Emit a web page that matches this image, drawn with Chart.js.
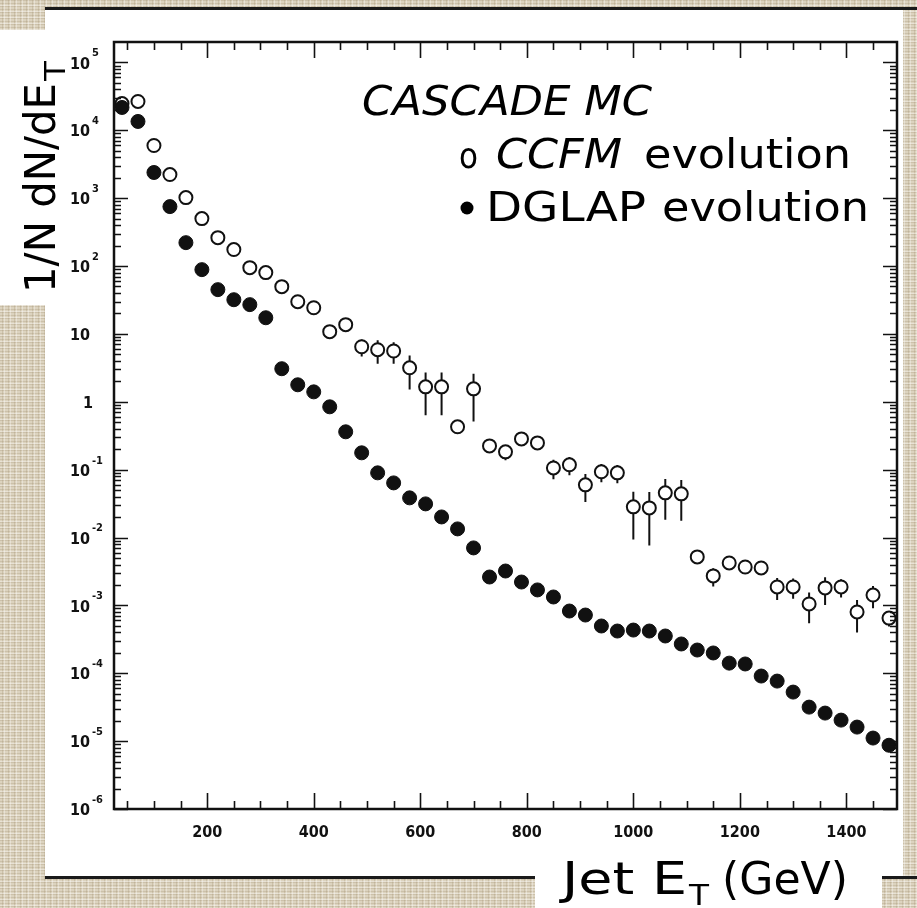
<!DOCTYPE html>
<html>
<head>
<meta charset="utf-8">
<script src="https://cdn.jsdelivr.net/npm/chart.js@4/dist/chart.umd.min.js"></script>
<style>
  html, body { margin: 0; padding: 0; background: #fff; }
  #wrap { width: 917px; height: 908px; position: relative; }
</style>
</head>
<body>
<div id="wrap"><canvas id="c" width="917" height="908"></canvas></div>
<script>
// Jet transverse energy bin centres (GeV), 30 GeV wide bins
const jetEt = [40, 70, 100, 130, 160, 190, 220, 250, 280, 310, 340, 370, 400, 430, 460, 490,
  520, 550, 580, 610, 640, 670, 700, 730, 760, 790, 820, 850, 880, 910, 940, 970, 1000,
  1030, 1060, 1090, 1120, 1150, 1180, 1210, 1240, 1270, 1300, 1330, 1360, 1390, 1420, 1450, 1480];

// 1/N dN/dE_T, CASCADE with DGLAP evolution (filled markers)
const dglap = [2.17e4, 1.35e4, 2.39e3, 751, 221, 88.5, 44.9, 31.9, 27.0, 17.3,
  3.07, 1.78, 1.40, 0.843, 0.361, 0.177, 0.0897, 0.0638, 0.0384, 0.0313, 0.0201, 0.0134,
  7.03e-3, 2.62e-3, 3.21e-3, 2.21e-3, 1.69e-3, 1.33e-3,
  8.26e-4, 7.21e-4, 4.97e-4, 4.19e-4, 4.33e-4, 4.19e-4, 3.54e-4, 2.70e-4, 2.20e-4, 1.99e-4,
  1.41e-4, 1.37e-4, 9.1e-5, 7.67e-5, 5.28e-5, 3.17e-5, 2.59e-5, 2.04e-5, 1.61e-5, 1.11e-5, 8.7e-6];

// 1/N dN/dE_T, CASCADE with CCFM evolution (open markers)
const ccfm = [2.48e4, 2.66e4, 5.97e3, 2.23e3, 1.02e3, 500, 262, 175, 94.7, 80,
  49.7, 29.8, 24.3, 10.8, 13.7, 6.47, 5.85, 5.6,
  3.17, 1.66, 1.66, 0.428, 1.55, 0.224, 0.183, 0.284, 0.248, 0.106, 0.118, 0.0597, 0.093, 0.0897,
  0.0283, 0.0273, 0.0455, 0.044, 5.18e-3,
  2.72e-3, 4.22e-3, 3.68e-3, 3.56e-3, 1.87e-3, 1.87e-3, 1.05e-3, 1.81e-3, 1.87e-3, 8.0e-4, 1.42e-3, 6.5e-4];

// Relative statistical uncertainty of the CCFM sample
const ccfmRelErr = [0.05, 0.05, 0.05, 0.05, 0.08, 0.08, 0.1, 0.1, 0.12, 0.12,
  0.15, 0.18, 0.2, 0.2, 0.2, 0.28, 0.38, 0.35,
  0.52, 0.62, 0.62, 0.1, 0.67, 0.2, 0.25, 0.2, 0.15, 0.32, 0.3, 0.44, 0.3, 0.3,
  0.67, 0.72, 0.6, 0.6, 0.12,
  0.3, 0.2, 0.15, 0.15, 0.36, 0.33, 0.48, 0.44, 0.3, 0.5, 0.36, 0.25];

const xTickValues = [200, 400, 600, 800, 1000, 1200, 1400];
const yTickValues = [1e-6, 1e-5, 1e-4, 1e-3, 1e-2, 1e-1, 1, 10, 1e2, 1e3, 1e4, 1e5];
const yTickLabels = ['10^-6', '10^-5', '10^-4', '10^-3', '10^-2', '10^-1', '1', '10', '10^2', '10^3', '10^4', '10^5'];

const INK = '#111';
const TICK_FONT = '"Liberation Sans Narrow", "DejaVu Sans Condensed", sans-serif';

// woven paper texture for the slide border
function paperPattern(ctx) {
  const t = document.createElement('canvas');
  t.width = 6; t.height = 6;
  const g = t.getContext('2d');
  g.fillStyle = '#dcd3bf';
  g.fillRect(0, 0, 6, 6);
  g.fillStyle = 'rgba(150,130,95,0.22)';
  g.fillRect(0, 0, 6, 1);
  g.fillRect(0, 3, 6, 1);
  g.fillRect(2, 0, 1, 6);
  g.fillStyle = 'rgba(255,255,255,0.35)';
  g.fillRect(4, 0, 1, 6);
  g.fillRect(0, 5, 6, 1);
  return ctx.createPattern(t, 'repeat');
}

// draw a text run, stretched horizontally to a given width
function run(ctx, text, font, x, base, width) {
  ctx.font = font;
  const w = ctx.measureText(text).width;
  ctx.save();
  ctx.translate(x, base);
  if (width) ctx.scale(width / w, 1);
  ctx.fillText(text, 0, 0);
  ctx.restore();
}

const backdrop = {
  id: 'backdrop',
  beforeDraw(chart) {
    const ctx = chart.ctx;
    ctx.save();
    ctx.fillStyle = '#fff';
    ctx.fillRect(0, 0, 917, 908);
    ctx.fillStyle = paperPattern(ctx);
    ctx.fillRect(0, 0, 917, 8);
    ctx.fillRect(0, 0, 45, 30);
    ctx.fillRect(0, 305, 45, 603);
    ctx.fillRect(903, 10, 14, 898);
    ctx.fillRect(0, 878, 535, 30);
    ctx.fillRect(882, 878, 35, 30);
    ctx.fillStyle = '#1a1a1a';
    ctx.fillRect(45, 7, 872, 3);
    ctx.fillRect(45, 876, 490, 3);
    ctx.fillRect(882, 876, 35, 3);
    ctx.restore();
  }
};

const errorBars = {
  id: 'errorBars',
  beforeDatasetsDraw(chart) {
    const { ctx, scales: { x, y } } = chart;
    ctx.save();
    ctx.strokeStyle = INK;
    ctx.lineWidth = 2;
    ctx.beginPath();
    jetEt.forEach((et, i) => {
      const v = ccfm[i], e = v * ccfmRelErr[i];
      const px = x.getPixelForValue(et);
      ctx.moveTo(px, y.getPixelForValue(v + e));
      ctx.lineTo(px, y.getPixelForValue(Math.max(v - e, 1e-7)));
    });
    ctx.stroke();
    ctx.restore();
  }
};

const frame = {
  id: 'frame',
  afterDraw(chart) {
    const { ctx, chartArea: a, scales: { x, y } } = chart;
    ctx.save();
    ctx.strokeStyle = INK;
    ctx.fillStyle = INK;

    // inward tick marks on all four sides
    ctx.lineWidth = 1.6;
    ctx.beginPath();
    for (let v = 50; v < x.max; v += 50) {
      const px = Math.round(x.getPixelForValue(v)) + 0.5;
      const len = v % 200 === 0 ? 16 : 8;
      ctx.moveTo(px, a.bottom); ctx.lineTo(px, a.bottom - len);
      ctx.moveTo(px, a.top); ctx.lineTo(px, a.top + len);
    }
    for (let d = -6; d <= 5; d++) {
      for (let m = 1; m <= 9; m++) {
        const v = m * Math.pow(10, d);
        if (v >= y.max) continue;
        const py = Math.round(y.getPixelForValue(v)) + 0.5;
        const len = m === 1 ? 14 : 7;
        ctx.moveTo(a.left, py); ctx.lineTo(a.left + len, py);
        ctx.moveTo(a.right, py); ctx.lineTo(a.right - len, py);
      }
    }
    ctx.stroke();

    ctx.lineWidth = 2.5;
    ctx.strokeRect(a.left, a.top, a.right - a.left, a.bottom - a.top);

    // y tick labels: base and raised exponent
    ctx.textBaseline = 'middle';
    ctx.textAlign = 'right';
    yTickValues.forEach((v, i) => {
      const py = y.getPixelForValue(v) + 2;
      const [base, exp] = yTickLabels[i].split('^');
      ctx.font = 'bold 16px ' + TICK_FONT;
      if (exp === undefined) {
        ctx.fillText(base, base === '1' ? 93 : 90, py);
      } else {
        ctx.fillText(base, 90, py);
        ctx.textAlign = 'left';
        ctx.font = 'bold 11px ' + TICK_FONT;
        ctx.fillText(exp, 92, py - 11);
        ctx.textAlign = 'right';
      }
    });

    // axis titles
    ctx.textAlign = 'left';
    ctx.textBaseline = 'alphabetic';
    ctx.fillStyle = '#000';
    ctx.save();
    ctx.translate(55, 293);
    ctx.rotate(-Math.PI / 2);
    run(ctx, '1/N dN/dE', '42px "DejaVu Sans"', 0, 0, 210);
    run(ctx, 'T', '28px "DejaVu Sans"', 212, 10, 20);
    ctx.restore();

    run(ctx, 'Jet E', '44px "DejaVu Sans"', 562, 894, 125);
    run(ctx, 'T', '28px "DejaVu Sans"', 689, 905, 20);
    run(ctx, '(GeV)', '44px "DejaVu Sans"', 722, 894, 126);

    // legend text
    run(ctx, 'CASCADE MC', 'italic 40px "DejaVu Sans"', 362, 115, 290);
    run(ctx, 'o', '36px "DejaVu Sans"', 459, 168, 19);
    run(ctx, 'CCFM', 'italic 40px "DejaVu Sans"', 496, 168, 126);
    run(ctx, 'evolution', '40px "DejaVu Sans"', 644, 168, 207);
    ctx.beginPath();
    ctx.arc(467, 208, 6.5, 0, Math.PI * 2);
    ctx.fill();
    run(ctx, 'DGLAP', '40px "DejaVu Sans"', 486, 221, 160);
    run(ctx, 'evolution', '40px "DejaVu Sans"', 662, 221, 207);
    ctx.restore();
  }
};

new Chart(document.getElementById('c'), {
  type: 'scatter',
  data: {
    datasets: [
      {
        label: 'DGLAP evolution',
        data: jetEt.map((et, i) => ({ x: et, y: dglap[i] })),
        pointStyle: 'circle',
        pointRadius: 7,
        pointBackgroundColor: INK,
        pointBorderColor: INK,
        pointBorderWidth: 1,
        order: 0
      },
      {
        label: 'CCFM evolution',
        data: jetEt.map((et, i) => ({ x: et, y: ccfm[i] })),
        pointStyle: 'circle',
        pointRadius: 6.5,
        pointBackgroundColor: '#fff',
        pointBorderColor: INK,
        pointBorderWidth: 2,
        order: 1
      }
    ]
  },
  options: {
    responsive: false,
    animation: false,
    devicePixelRatio: 1,
    layout: { padding: { top: 42, right: 20, left: 0, bottom: 0 } },
    plugins: { legend: { display: false }, tooltip: { enabled: false } },
    scales: {
      x: {
        type: 'linear',
        min: 25,
        max: 1495,
        afterBuildTicks: s => { s.ticks = xTickValues.map(v => ({ value: v })); },
        afterFit: s => { s.height = 99; },
        grid: { display: false, drawTicks: false },
        border: { display: false },
        ticks: {
          color: INK,
          padding: 14,
          maxRotation: 0,
          font: { family: TICK_FONT, size: 16, weight: 'bold' },
          callback: v => String(v)
        }
      },
      y: {
        type: 'logarithmic',
        min: 1e-6,
        max: 2e5,
        afterBuildTicks: s => { s.ticks = yTickValues.map(v => ({ value: v })); },
        afterFit: s => { s.width = 114; },
        grid: { display: false, drawTicks: false },
        border: { display: false },
        ticks: { display: false }
      }
    }
  },
  plugins: [backdrop, errorBars, frame]
});
</script>
</body>
</html>
